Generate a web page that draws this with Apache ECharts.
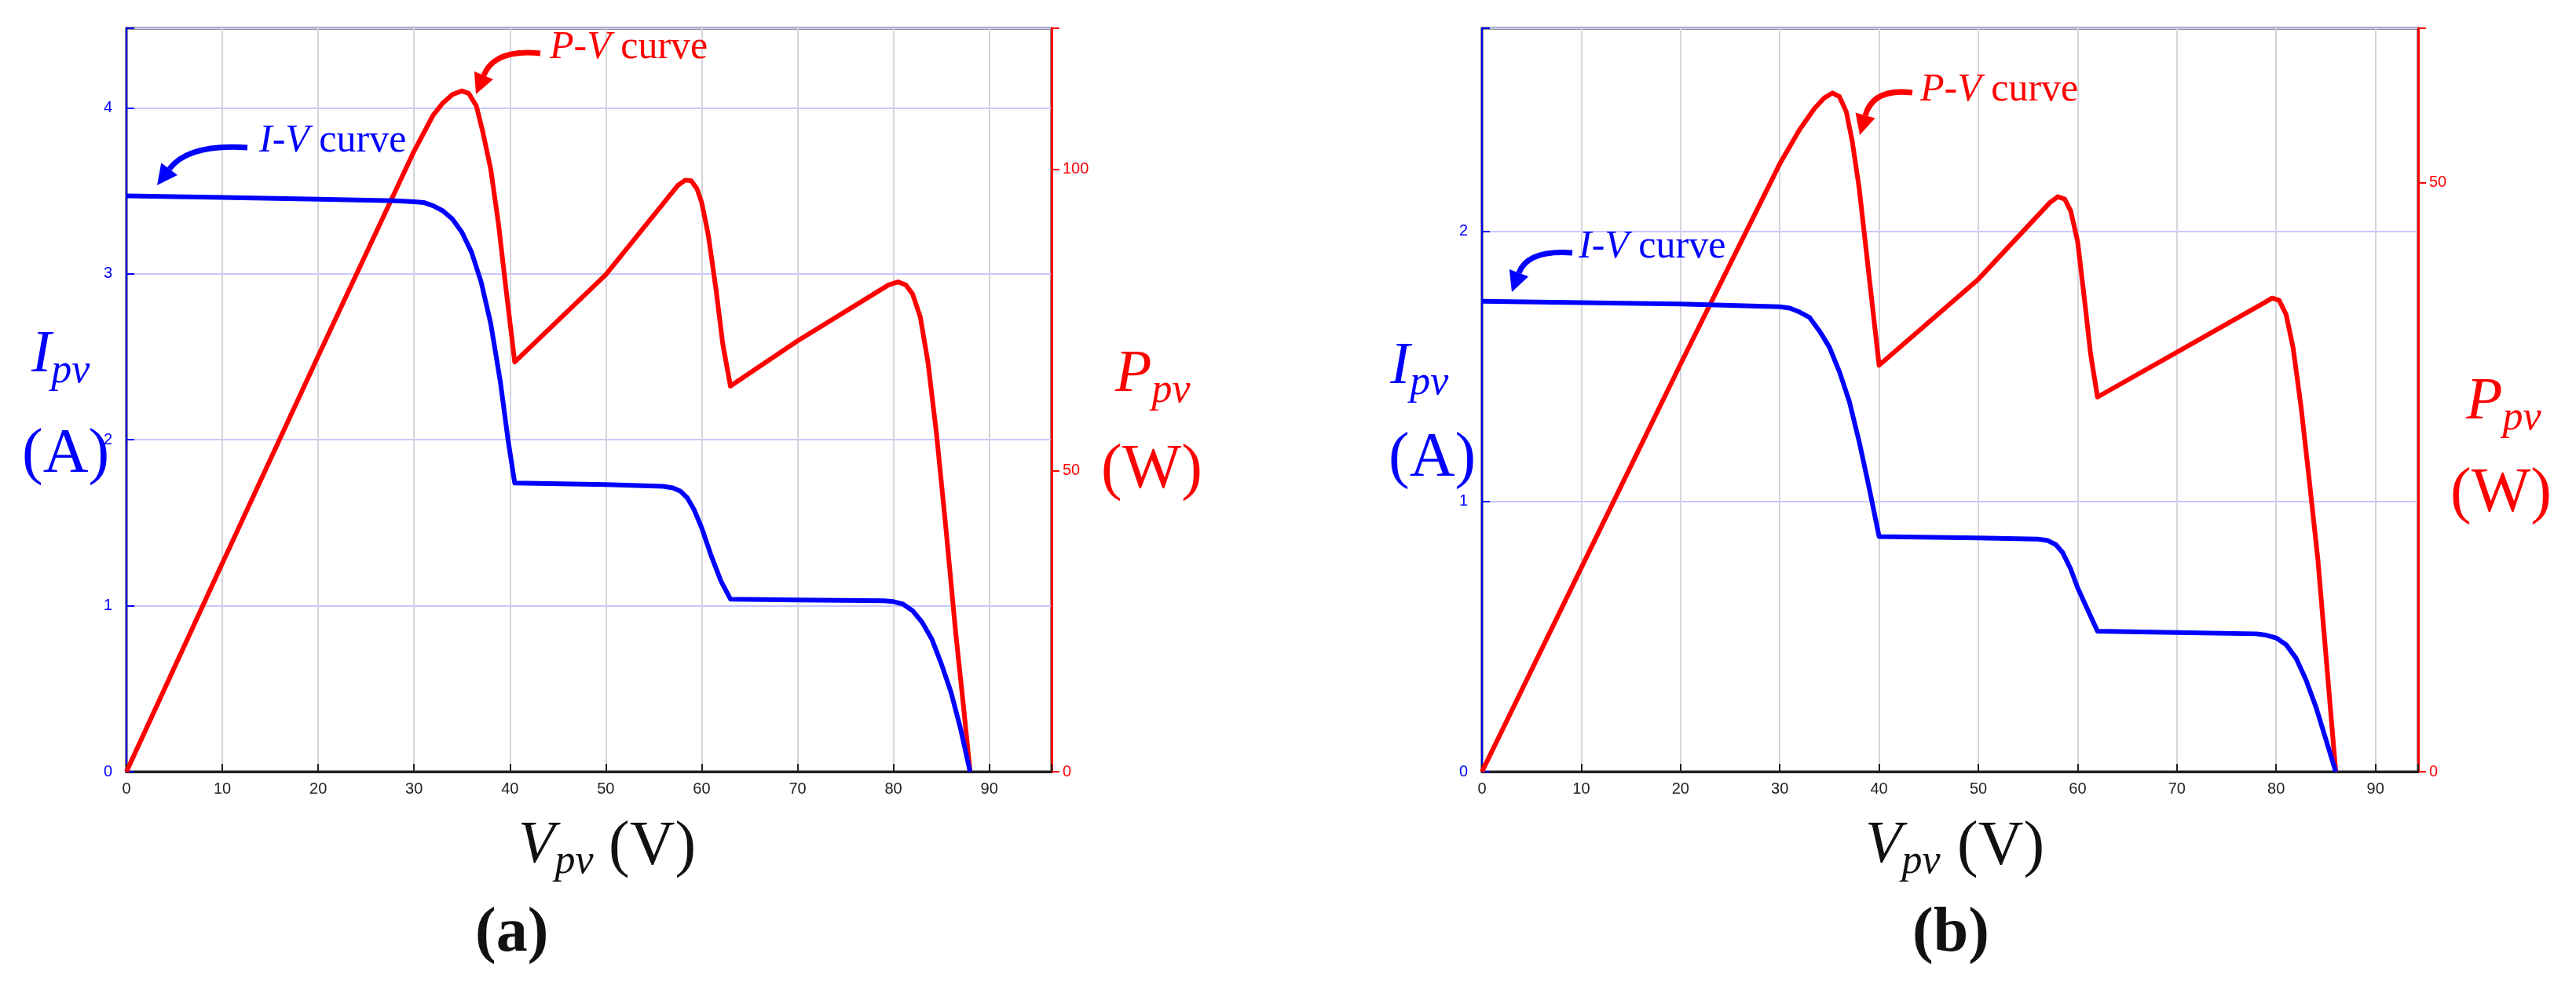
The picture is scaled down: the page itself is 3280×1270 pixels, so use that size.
<!DOCTYPE html>
<html>
<head>
<meta charset="utf-8">
<script src="https://cdn.jsdelivr.net/npm/echarts@6/dist/echarts.min.js"></script>
<style>html,body{margin:0;background:#fff}#c{width:3280px;height:1270px}</style>
</head>
<body>
<div id="c"></div>
<script>
// (a) readings: [V, I] and [V, P]
var ivA = [[0,3.47],[10,3.46],[20,3.45],[28,3.44],[30,3.435],[31,3.43],[32,3.41],[33,3.38],[34,3.33],[35,3.25],[36,3.13],[37,2.95],[38,2.7],[39,2.35],[39.8,2.0],[40.5,1.74],[50,1.73],[56,1.72],[57,1.71],[57.8,1.69],[58.5,1.65],[59.2,1.58],[60,1.47],[61,1.3],[62,1.15],[63,1.04],[70,1.035],[79,1.03],[80,1.025],[81,1.01],[82,0.97],[83,0.9],[84,0.8],[85,0.65],[86,0.48],[87,0.26],[88,0]];
var pvA = [[0,0],[10,34.6],[20,69],[30,103],[32,109],[33,111],[34,112.4],[35,113],[35.7,112.6],[36.5,110.5],[37.2,106],[38,100],[38.8,91],[39.6,80],[40.5,68],[50,82.5],[57.5,97.3],[58.3,98.2],[58.9,98.1],[59.5,96.8],[60,94.5],[60.7,89],[61.5,80],[62.2,71],[63,64],[70,71.5],[79.5,80.8],[80.5,81.3],[81.3,80.8],[82,79.3],[82.8,75.5],[83.6,68],[84.5,56],[85.5,40],[86.5,23],[87.3,11],[88,0]];
// (b) readings
var ivB = [[0,1.74],[20,1.73],[30,1.72],[31,1.715],[32,1.70],[33,1.68],[34,1.63],[35,1.57],[36,1.48],[37,1.37],[38,1.22],[39,1.05],[40,0.87],[50,0.865],[56,0.86],[57,0.855],[57.8,0.84],[58.5,0.81],[59.3,0.75],[60,0.68],[61,0.6],[62,0.52],[70,0.515],[78,0.51],[79,0.505],[80,0.495],[81,0.47],[82,0.42],[83,0.34],[84,0.24],[85,0.12],[86,0]];
var pvB = [[0,0],[10,17.3],[20,34.6],[30,51.6],[32,54.5],[33.5,56.3],[34.5,57.2],[35.3,57.6],[36,57.3],[36.7,56],[37.3,53.5],[38,49.5],[39,42],[40,34.5],[50,41.8],[57.2,48.3],[58,48.8],[58.7,48.6],[59.3,47.6],[60,45],[60.7,40],[61.3,35.5],[62,31.8],[70,35.6],[78.8,39.8],[79.6,40.2],[80.3,40],[81,38.8],[81.7,36],[82.5,31],[83.3,25],[84.2,18],[85.1,9],[86,0]];

var xMaxA = 96.5, xMaxB = 94.3;
var iMaxA = 4.48, iMaxB = 2.75;
var pMaxA = 123.4, pMaxB = 63.1;

var BLUE = '#0000ff', RED = '#ff0000';
var SERIF = 'Liberation Serif';

function xAx(gi, max) {
  return {
    gridIndex: gi, type: 'value', min: 0, max: max, interval: 10,
    axisLine: { lineStyle: { color: '#222', width: 3 } },
    axisTick: { inside: true, length: 10, lineStyle: { color: '#222', width: 2 } },
    axisLabel: { color: '#222', fontSize: 20, fontFamily: 'Liberation Sans', margin: 12,
      formatter: function (v) { return v > 90 ? '' : v; } },
    splitLine: { show: true, lineStyle: { color: '#d4d4dc', width: 2 } }
  };
}
function iAx(gi, max) {
  return {
    gridIndex: gi, type: 'value', position: 'left', min: 0, max: max, interval: 1,
    axisLine: { show: true, lineStyle: { color: BLUE, width: 2 } },
    axisTick: { show: true, inside: true, length: 10, lineStyle: { color: BLUE, width: 2 } },
    axisLabel: { color: BLUE, fontSize: 20, fontFamily: 'Liberation Sans', margin: 18,
      formatter: function (v) { return Math.abs(v - Math.round(v)) < 1e-6 ? v : ''; } },
    splitLine: { show: true, lineStyle: { color: '#c8c8ff', width: 2 } }
  };
}
function pAx(gi, max) {
  return {
    gridIndex: gi, type: 'value', position: 'right', min: 0, max: max, interval: 50,
    axisLine: { show: true, lineStyle: { color: RED, width: 3 } },
    axisTick: { show: true, inside: false, length: 10, lineStyle: { color: RED, width: 2 } },
    axisLabel: { color: RED, fontSize: 20, fontFamily: 'Liberation Sans', margin: 14,
      formatter: function (v) { return v % 50 === 0 ? v : ''; } },
    splitLine: { show: false }
  };
}
function line(xi, yi, data, color) {
  return { type: 'line', xAxisIndex: xi, yAxisIndex: yi, data: data, showSymbol: false,
    smooth: false, lineStyle: { color: color, width: 6, join: 'round' }, z: color === RED ? 3 : 4 };
}
function label(x, y, main, sub, color) {
  return { type: 'text', left: x, top: y, z: 10,
    style: { text: '{m|' + main + '}{s|' + sub + '}', fill: color,
      rich: { m: { fontFamily: SERIF, fontStyle: 'italic', fontSize: 76, fill: color },
              s: { fontFamily: SERIF, fontStyle: 'italic', fontSize: 52, fill: color, padding: [40, 0, 0, 0] } } } };
}
function plain(x, y, txt, color, size, bold) {
  return { type: 'text', left: x, top: y, z: 10,
    style: { text: txt, fill: color, fontFamily: SERIF, fontSize: size, fontWeight: bold ? 'bold' : 'normal' } };
}
function note(x, y, a, color) {
  return { type: 'text', left: x, top: y, z: 10,
    style: { text: '{i|' + a + '}{n| curve}', rich: {
      i: { fontFamily: SERIF, fontStyle: 'italic', fontSize: 50, fill: color },
      n: { fontFamily: SERIF, fontSize: 50, fill: color } } } };
}
function arrow(x1, y1, cx, cy, x2, y2, color) {
  var ang = Math.atan2(y2 - cy, x2 - cx), L = 26, W = 13;
  var bx = x2 - L * Math.cos(ang), by = y2 - L * Math.sin(ang);
  var px = -Math.sin(ang) * W, py = Math.cos(ang) * W;
  return [
    { type: 'bezierCurve', z: 10, shape: { x1: x1, y1: y1, x2: bx, y2: by, cpx1: cx, cpy1: cy },
      style: { stroke: color, lineWidth: 7, fill: null } },
    { type: 'polygon', z: 10, shape: { points: [[x2, y2], [bx + px, by + py], [bx - px, by - py]] },
      style: { fill: color } }
  ];
}

var chart = echarts.init(document.getElementById('c'));
chart.setOption({
  animation: false,
  backgroundColor: '#fff',
  grid: [
    { left: 161, top: 36, width: 1178, height: 947, show: true, borderColor: '#222', borderWidth: 3 },
    { left: 1887, top: 36, width: 1192, height: 947, show: true, borderColor: '#222', borderWidth: 3 }
  ],
  xAxis: [xAx(0, xMaxA), xAx(1, xMaxB)],
  yAxis: [iAx(0, iMaxA), pAx(0, pMaxA), iAx(1, iMaxB), pAx(1, pMaxB)],
  series: [
    line(0, 1, pvA, RED), line(0, 0, ivA, BLUE),
    line(1, 3, pvB, RED), line(1, 2, ivB, BLUE)
  ],
  graphic: [
    label(40, 415, 'I', 'pv', BLUE), plain(28, 540, '(A)', BLUE, 80),
    label(1420, 440, 'P', 'pv', RED), plain(1402, 560, '(W)', RED, 80),
    label(660, 1040, 'V', 'pv', '#111'), plain(775, 1040, '(V)', '#111', 80),
    plain(605, 1150, '(a)', '#111', 80, true),
    note(330, 155, 'I-V', BLUE), note(700, 36, 'P-V', RED),
    label(1770, 430, 'I', 'pv', BLUE), plain(1768, 545, '(A)', BLUE, 80),
    label(3140, 475, 'P', 'pv', RED), plain(3120, 590, '(W)', RED, 80),
    label(2375, 1040, 'V', 'pv', '#111'), plain(2492, 1040, '(V)', '#111', 80),
    plain(2435, 1150, '(b)', '#111', 80, true),
    note(2010, 290, 'I-V', BLUE), note(2445, 90, 'P-V', RED)
  ].concat(arrow(315, 188, 240, 183, 200, 236, BLUE))
   .concat(arrow(688, 68, 630, 62, 606, 120, RED))
   .concat(arrow(2002, 322, 1945, 318, 1925, 372, BLUE))
   .concat(arrow(2435, 118, 2385, 112, 2368, 172, RED))
});
</script>
</body>
</html>
